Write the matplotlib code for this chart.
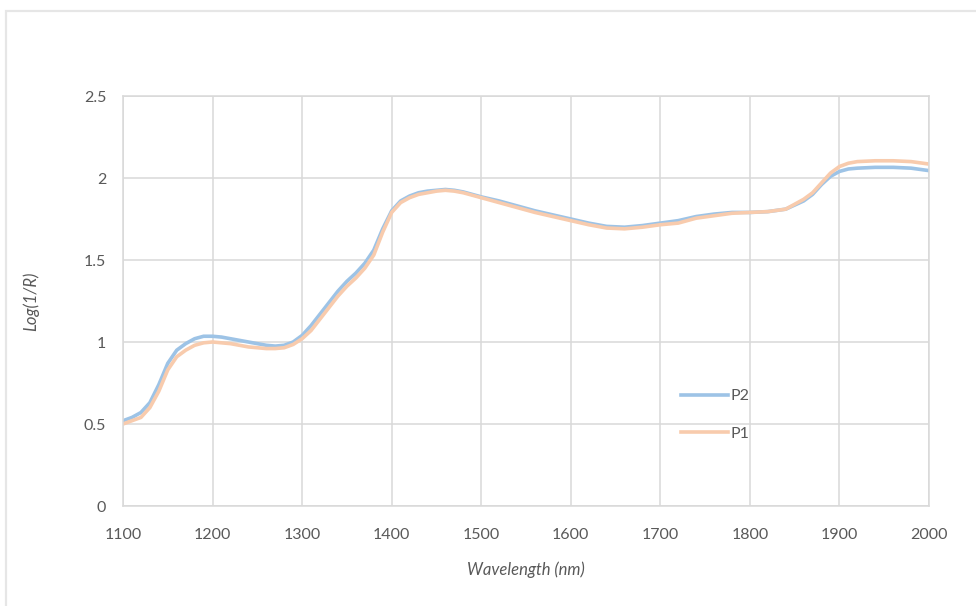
import matplotlib.pyplot as plt
from matplotlib.patches import Rectangle

# wavelengths (nm) and spectra
wavelength = [1100, 1110, 1120, 1130, 1140, 1150, 1160, 1170, 1180, 1190,
              1200, 1210, 1220, 1230, 1240, 1250, 1260, 1270, 1280, 1290,
              1300, 1310, 1320, 1330, 1340, 1350, 1360, 1370, 1380, 1390,
              1400, 1410, 1420, 1430, 1440, 1450, 1460, 1470, 1480, 1490,
              1500, 1520, 1540, 1560, 1580, 1600, 1620, 1640, 1660, 1680,
              1700, 1720, 1740, 1760, 1780, 1800, 1820, 1840, 1860, 1870,
              1880, 1890, 1900, 1910, 1920, 1940, 1960, 1980, 2000]
p2 = [0.52, 0.54, 0.57, 0.63, 0.74, 0.87, 0.95, 0.99, 1.02, 1.035,
      1.035, 1.03, 1.02, 1.01, 1.00, 0.99, 0.98, 0.975, 0.98, 1.00,
      1.04, 1.10, 1.17, 1.24, 1.31, 1.37, 1.42, 1.48, 1.56, 1.69,
      1.80, 1.86, 1.89, 1.91, 1.92, 1.925, 1.93, 1.925, 1.915, 1.90,
      1.885, 1.86, 1.83, 1.80, 1.775, 1.75, 1.725, 1.705, 1.70, 1.71,
      1.725, 1.74, 1.765, 1.78, 1.79, 1.79, 1.795, 1.81, 1.86, 1.90,
      1.96, 2.01, 2.04, 2.055, 2.06, 2.065, 2.065, 2.06, 2.045]
p1 = [0.50, 0.52, 0.54, 0.60, 0.70, 0.83, 0.91, 0.95, 0.98, 0.995,
      1.00, 0.995, 0.99, 0.98, 0.97, 0.965, 0.96, 0.96, 0.965, 0.985,
      1.02, 1.07, 1.14, 1.21, 1.28, 1.34, 1.39, 1.45, 1.53, 1.67,
      1.79, 1.85, 1.88, 1.90, 1.91, 1.92, 1.925, 1.92, 1.91, 1.895,
      1.88, 1.85, 1.82, 1.79, 1.765, 1.74, 1.715, 1.695, 1.69, 1.70,
      1.715, 1.725, 1.755, 1.77, 1.785, 1.79, 1.795, 1.81, 1.87, 1.91,
      1.97, 2.03, 2.07, 2.09, 2.10, 2.105, 2.105, 2.10, 2.085]

x_ticks = [1100, 1200, 1300, 1400, 1500, 1600, 1700, 1800, 1900, 2000]
y_ticks = [0, 0.5, 1, 1.5, 2, 2.5]

plt.rcParams['font.family'] = ['Lato', 'DejaVu Sans']
txt = '#595959'
grid = '#d9d9d9'

fig = plt.figure(figsize=(9.76, 6.06), dpi=100)
fig.patches.append(Rectangle((6 / 976, -0.1), 1.2, 1 - 10.5 / 606 + 0.1,
                             transform=fig.transFigure, fill=False,
                             edgecolor='#e6e6e6', linewidth=1.6))
ax = fig.add_axes([123 / 976, 100 / 606, (929 - 123) / 976, (506 - 96) / 606])

ax.plot(wavelength, p2, color='#9dc3e6', linewidth=2.6, label='P2')
ax.plot(wavelength, p1, color='#f8cbad', linewidth=2.6, label='P1')

ax.set_xlim(1100, 2000)
ax.set_ylim(0, 2.5)
ax.set_xticks(x_ticks)
ax.set_yticks(y_ticks)
ax.set_yticklabels([f'{v:g}' for v in y_ticks])
ax.grid(True, color=grid, linewidth=1.1)
ax.set_axisbelow(True)
for s in ax.spines.values():
    s.set_color(grid)
    s.set_linewidth(1.1)
ax.tick_params(length=0, labelsize=11.5, colors=txt, pad=16)
ax.tick_params(axis='y', pad=12)

ax.set_xlabel('Wavelength (nm)', fontsize=12, color=txt, style='italic', labelpad=14)
ax.set_ylabel('Log(1/R)', fontsize=12, color=txt, style='italic', labelpad=32)

ax.legend(loc='upper left', bbox_to_anchor=(0.675, 0.32), frameon=False,
          fontsize=11.5, labelcolor=txt, handlelength=2.9, handletextpad=0.15,
          labelspacing=1.45)

fig.savefig('out.png', dpi=100)
